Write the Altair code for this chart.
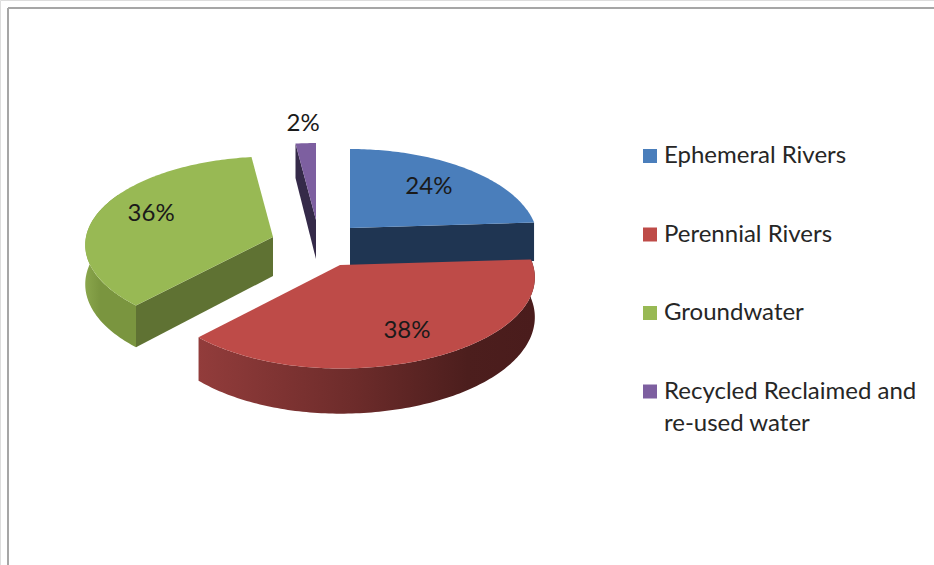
import math

import altair as alt

# Share of water supply by source, in percent, clockwise from twelve o'clock.
categories = ["Ephemeral Rivers", "Perennial Rivers", "Groundwater", "Recycled Reclaimed and re-used water"]
shares = [24, 38, 36, 2]
top_colors = ["#4a7ebb", "#be4b48", "#98b954", "#7d5fa0"]
wall_colors = ["#1f3552", "#4a1c1c", "#5f7233", "#352a49"]

# Drawing geometry of the tilted, exploded pie (pixels).
APEX = [(350, 228), (340, 265), (273, 237), (316, 220)]
RX_RIGHT = [186, 193, 186, 186]
RX_LEFT = [186, 186, 187, 186]
RY = [89.8, 89.3, 87.8, 87.5]
TILT = [0.137, 0.137, 0.09, 0.137]
DEPTH = 39
LABEL_RADIUS = [0.66, 0.74, 0.72, 1.3]
LABEL_TURN = [0, 0, 4, 0]


def rim(i, deg, drop=0.0, radius=1.0):
    """Screen position of a point on slice i; drop is the share of wall depth below the top face."""
    t = math.radians(deg)
    u, v = math.sin(t) * radius, math.cos(t) * radius
    f = 1 / (1 + TILT[i] * v)
    ax, ay = APEX[i]
    rx = RX_RIGHT[i] if u >= 0 else RX_LEFT[i]
    return [ax + rx * u * f, ay - RY[i] * v * f + drop * DEPTH * f]


def sweep(i, a, b, drop=0.0):
    n = max(2, int(abs(b - a)))
    return [rim(i, a + (b - a) * k / n, drop) for k in range(n + 1)]


def feature(ring, **props):
    return {
        "type": "Feature",
        "properties": props,
        "geometry": {"type": "Polygon", "coordinates": [ring + [ring[0]]]},
    }


def radial_wall(i, deg):
    ax, ay = APEX[i]
    return feature([[ax, ay], rim(i, deg), rim(i, deg, 1.0), [ax, ay + DEPTH]], fill=wall_colors[i])


def rim_wall(i, a, b):
    return feature(sweep(i, a, b) + sweep(i, b, a, 1.0), fill=wall_colors[i])


# Angular extent of every slice, taken from the shares.
edges = [0.0]
for s in shares:
    edges.append(edges[-1] + s * 3.6)

top_faces, label_rows = [], []
for i, name in enumerate(categories):
    top_faces.append(feature([list(APEX[i])] + sweep(i, edges[i], edges[i + 1]), category=name))
    mid = (edges[i] + edges[i + 1]) / 2 + LABEL_TURN[i]
    lon, lat = rim(i, mid, 0.0, LABEL_RADIUS[i])
    label_rows.append({"lon": lon, "lat": lat, "text": f"{shares[i]}%"})

flat_walls = [radial_wall(3, edges[3]), radial_wall(0, edges[1])]
green_cut = radial_wall(2, edges[2])
red_rim = rim_wall(1, edges[1], edges[2])
green_rim = rim_wall(2, edges[2], 300)

screen = dict(type="identity", scale=1, translate=[0, 0])


def shapes(rows):
    return alt.Chart(alt.Data(values=rows))


red_shade = alt.Gradient(
    gradient="linear", x1=0, x2=1, y1=0, y2=0,
    stops=[
        alt.GradientStop(color="#923c3b", offset=0),
        alt.GradientStop(color="#6e2c2b", offset=0.45),
        alt.GradientStop(color="#4c1e1d", offset=0.8),
        alt.GradientStop(color="#4a1c1c", offset=1),
    ],
)
green_shade = alt.Gradient(
    gradient="linear", x1=0, x2=1, y1=0, y2=0,
    stops=[
        alt.GradientStop(color="#8aa64c", offset=0),
        alt.GradientStop(color="#7a953f", offset=0.3),
        alt.GradientStop(color="#7a953f", offset=1),
    ],
)

walls = shapes(flat_walls).mark_geoshape(strokeWidth=0).encode(
    fill=alt.Fill("properties.fill:N", scale=None)
).project(**screen)
red_wall = shapes([red_rim]).mark_geoshape(fill=red_shade, strokeWidth=0).project(**screen)
green_wall = shapes([green_rim]).mark_geoshape(fill=green_shade, strokeWidth=0).project(**screen)
green_face = shapes([green_cut]).mark_geoshape(fill=wall_colors[2], strokeWidth=0).project(**screen)

tops = shapes(top_faces).mark_geoshape(strokeWidth=0).encode(
    fill=alt.Fill(
        "properties.category:N",
        scale=alt.Scale(domain=categories, range=top_colors),
        legend=alt.Legend(
            title=None,
            orient="none",
            legendX=638,
            legendY=144,
            symbolType="square",
            symbolSize=196,
            symbolStrokeWidth=0,
            labelFont="Lato",
            labelFontSize=24,
            labelColor="#262626",
            labelOffset=2,
            labelLimit=320,
            rowPadding=54.5,
            labelExpr="datum.label == 'Recycled Reclaimed and re-used water' ? ['Recycled Reclaimed and', 're-used water'] : datum.label",
        ),
    )
).project(**screen)

labels = shapes(label_rows).mark_text(
    font="Lato", fontSize=24, color="#1a1a1a", align="center", baseline="middle"
).encode(
    longitude="lon:Q", latitude="lat:Q", text="text:N"
).project(**screen)

top_rule = alt.Chart(alt.Data(values=[{"k": 0}])).mark_rule(color="#a6a6a6", strokeWidth=2).encode(
    x=alt.value(8), x2=alt.value(934), y=alt.value(8)
)
left_rule = alt.Chart(alt.Data(values=[{"k": 0}])).mark_rule(color="#a6a6a6", strokeWidth=2).encode(
    y=alt.value(8), y2=alt.value(565), x=alt.value(8)
)

chart = (
    alt.layer(top_rule, left_rule, red_wall, green_wall, green_face, walls, tops, labels)
    .properties(width=934, height=565, padding=0, autosize=alt.AutoSizeParams(type="none"))
    .configure_view(stroke=None)
    .configure(style={"guide-label": {"lineHeight": 32}})
)

chart.save("out.html", embed_options={"renderer": "svg", "actions": False})
